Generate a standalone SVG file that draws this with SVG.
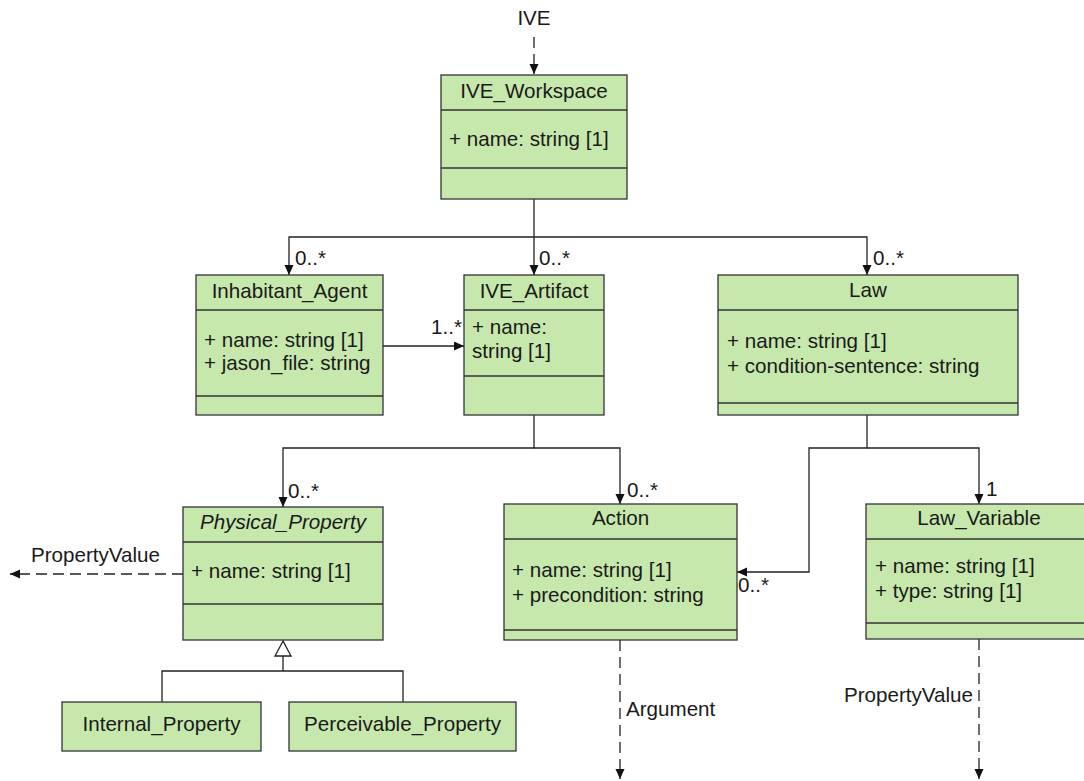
<svg xmlns="http://www.w3.org/2000/svg" width="1084" height="781" viewBox="0 0 1084 781">
<style>
text{font-family:"Liberation Sans",Arial,sans-serif;font-size:20.6px;fill:#1a1a1a}
.box{fill:#c7e8ac;stroke:#333;stroke-width:1.3}
.div{stroke:#333;stroke-width:1.3}
.t{text-anchor:middle}
.c{fill:none;stroke:#222;stroke-width:1.3}
.d{stroke-dasharray:11 6}
.m{font-size:20.6px}
</style>
<defs>
<marker id="ah" markerUnits="userSpaceOnUse" markerWidth="10" markerHeight="10" refX="10" refY="4.5" orient="auto">
<path d="M0,0 L10,4.5 L0,9 z" fill="#111"/>
</marker>
</defs>
<rect width="1084" height="781" fill="#fff"/>
<g id="connectors">
<path class="c d" d="M534,37 V74" marker-end="url(#ah)"/>
<path class="c" d="M534,199 V275" marker-end="url(#ah)"/>
<path class="c" d="M534,237 H289 V275" marker-end="url(#ah)"/>
<path class="c" d="M534,237 H867 V275" marker-end="url(#ah)"/>
<path class="c" d="M383,346 H464" marker-end="url(#ah)"/>
<path class="c" d="M534,415 V448 H283 V507" marker-end="url(#ah)"/>
<path class="c" d="M534,448 H620 V504" marker-end="url(#ah)"/>
<path class="c" d="M867,415 V448 H809 V572 H737" marker-end="url(#ah)"/>
<path class="c" d="M867,448 H979 V504" marker-end="url(#ah)"/>
<path class="c d" d="M183,574 H10" marker-end="url(#ah)"/>
<path class="c d" d="M620,640 V779" marker-end="url(#ah)"/>
<path class="c d" d="M979,639 V779" marker-end="url(#ah)"/>
<path class="c" d="M162,702 V671 H403 V702 M283,671 V656"/>
<polygon points="283,641 275,656 291,656" fill="#fff" stroke="#222" stroke-width="1.3"/>
<text x="534" y="25" class="t">IVE</text>
<text x="295" y="265" class="m">0..*</text>
<text x="539" y="265" class="m">0..*</text>
<text x="873" y="265" class="m">0..*</text>
<text x="431" y="334" class="m">1..*</text>
<text x="288" y="498" class="m">0..*</text>
<text x="627" y="497" class="m">0..*</text>
<text x="738" y="592" class="m">0..*</text>
<text x="986" y="496" class="m">1</text>
<text x="31" y="562">PropertyValue</text>
<text x="626" y="716">Argument</text>
<text x="973" y="702" text-anchor="end">PropertyValue</text>
</g>
<g id="IVE_Workspace">
<rect class="box" x="441" y="75" width="186" height="124"/>
<line class="div" x1="441" y1="110" x2="627" y2="110"/>
<line class="div" x1="441" y1="168" x2="627" y2="168"/>
<text x="534" y="98" class="t">IVE_Workspace</text>
<text x="449" y="146">+ name: string [1]</text>
</g>
<g id="Inhabitant_Agent">
<rect class="box" x="196" y="275" width="187" height="140"/>
<line class="div" x1="196" y1="310" x2="383" y2="310"/>
<line class="div" x1="196" y1="396" x2="383" y2="396"/>
<text x="289.5" y="298" class="t">Inhabitant_Agent</text>
<text x="204" y="347">+ name: string [1]</text>
<text x="204" y="370">+ jason_file: string</text>
</g>
<g id="IVE_Artifact">
<rect class="box" x="464" y="275" width="140" height="140"/>
<line class="div" x1="464" y1="310" x2="604" y2="310"/>
<line class="div" x1="464" y1="376" x2="604" y2="376"/>
<text x="534" y="298" class="t">IVE_Artifact</text>
<text x="472" y="334">+ name:</text>
<text x="472" y="358">string [1]</text>
</g>
<g id="Law">
<rect class="box" x="718" y="275" width="300" height="140"/>
<line class="div" x1="718" y1="310" x2="1018" y2="310"/>
<line class="div" x1="718" y1="403" x2="1018" y2="403"/>
<text x="868" y="297" class="t">Law</text>
<text x="727" y="348">+ name: string [1]</text>
<text x="727" y="373">+ condition-sentence: string</text>
</g>
<g id="Physical_Property">
<rect class="box" x="183" y="507" width="200" height="133"/>
<line class="div" x1="183" y1="542" x2="383" y2="542"/>
<line class="div" x1="183" y1="604" x2="383" y2="604"/>
<text x="283" y="529" class="t" font-style="italic">Physical_Property</text>
<text x="191" y="578">+ name: string [1]</text>
</g>
<g id="Action">
<rect class="box" x="504" y="504" width="233" height="136"/>
<line class="div" x1="504" y1="539" x2="737" y2="539"/>
<line class="div" x1="504" y1="630" x2="737" y2="630"/>
<text x="620.5" y="525" class="t">Action</text>
<text x="512" y="577">+ name: string [1]</text>
<text x="512" y="602">+ precondition: string</text>
</g>
<g id="Law_Variable">
<rect class="box" x="866" y="504" width="226" height="135"/>
<line class="div" x1="866" y1="539" x2="1092" y2="539"/>
<line class="div" x1="866" y1="623" x2="1092" y2="623"/>
<text x="979" y="525" class="t">Law_Variable</text>
<text x="875" y="573">+ name: string [1]</text>
<text x="875" y="598">+ type: string [1]</text>
</g>
<g id="Internal_Property">
<rect class="box" x="62" y="702" width="199" height="49"/>
<text x="161.5" y="731" class="t">Internal_Property</text>
</g>
<g id="Perceivable_Property">
<rect class="box" x="289" y="702" width="227" height="49"/>
<text x="402.5" y="731" class="t">Perceivable_Property</text>
</g>
</svg>
